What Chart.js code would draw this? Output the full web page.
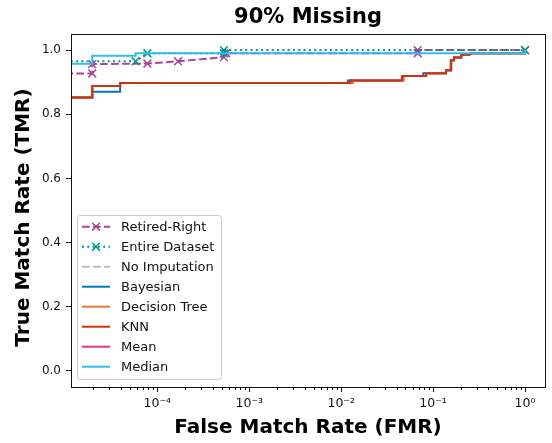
<!DOCTYPE html>
<html>
<head>
<meta charset="utf-8">
<script src="https://cdn.jsdelivr.net/npm/chart.js@4.4.1/dist/chart.umd.min.js"></script>
<style>
  body { margin: 0; background: #fff; }
</style>
</head>
<body>
<canvas id="roc" width="552" height="443"></canvas>
<script>
// ROC curves - 90% missing
const seriesNames = ['Retired-Right', 'Entire Dataset', 'No Imputation', 'Bayesian', 'Decision Tree', 'KNN', 'Mean', 'Median'];

const retiredFmr = [1e-5, 1.96e-5, 1.96e-5, 7.8e-5, 1.68e-4, 5.3e-4, 5.6e-4, 0.068, 0.068, 1];
const retiredTmr = [0.927, 0.927, 0.956, 0.958, 0.965, 0.978, 0.99, 0.99, 1.0, 1.0];

const entireFmr = [1e-5, 5.8e-5, 7.8e-5, 5.3e-4, 5.3e-4, 1];
const entireTmr = [0.965, 0.965, 0.99, 0.99, 1.0, 1.0];

const medianFmr = [1e-5, 1.96e-5, 1.96e-5, 5.8e-5, 5.8e-5, 1, 1];
const medianTmr = [0.957, 0.957, 0.982, 0.982, 0.99, 0.99, 1.0];

const knnFmr = [1e-5, 1.96e-5, 1.96e-5, 3.94e-5, 3.94e-5, 0.0125, 0.0125, 0.046, 0.046, 0.084, 0.084,
  0.138, 0.138, 0.157, 0.157, 0.169, 0.169, 0.202, 0.202, 0.247, 0.247, 0.259, 0.259, 1, 1];
const knnTmr = [0.852, 0.852, 0.888, 0.888, 0.897, 0.897, 0.905, 0.905, 0.919, 0.919, 0.928,
  0.928, 0.937, 0.937, 0.968, 0.968, 0.977, 0.977, 0.985, 0.985, 0.988, 0.988, 0.99, 0.99, 1.0];

const bayesFmr = [1e-5, 1.96e-5, 1.96e-5, 3.94e-5, 3.94e-5, 0.0118, 0.0118, 0.046, 0.046, 0.078, 0.078,
  0.138, 0.138, 0.155, 0.155, 0.169, 0.169, 0.202, 0.202, 0.247, 0.247, 0.259, 0.259, 1, 1];
const bayesTmr = [0.852, 0.852, 0.870, 0.870, 0.897, 0.897, 0.905, 0.905, 0.919, 0.919, 0.928,
  0.928, 0.937, 0.937, 0.968, 0.968, 0.977, 0.977, 0.985, 0.985, 0.988, 0.988, 0.99, 0.99, 1.0];

const treeFmr = [1e-5, 1.96e-5, 1.96e-5, 3.94e-5, 3.94e-5, 0.0135, 0.0135, 0.048, 0.048, 0.084, 0.084,
  0.138, 0.138, 0.157, 0.157, 0.169, 0.169, 0.202, 0.202, 0.247, 0.247, 0.259, 0.259, 1, 1];
const treeTmr = [0.852, 0.852, 0.888, 0.888, 0.897, 0.897, 0.905, 0.905, 0.919, 0.919, 0.928,
  0.928, 0.937, 0.937, 0.968, 0.968, 0.977, 0.977, 0.985, 0.985, 0.988, 0.988, 0.99, 0.99, 1.0];

// hidden curves: no imputation and mean both sit under KNN
const noImpFmr = knnFmr, noImpTmr = knnTmr;
const meanFmr = knnFmr, meanTmr = knnTmr;

const xTickValues = [1e-4, 1e-3, 1e-2, 1e-1, 1];
const xTickLabels = ['10\u207B\u2074', '10\u207B\u00B3', '10\u207B\u00B2', '10\u207B\u00B9', '10\u2070'];
const yTickValues = [0, 0.2, 0.4, 0.6, 0.8, 1.0];

const colors = ['#AA4499', '#009988', '#BBBBBB', '#0077BB', '#EE7733', '#CC3311', '#EE3377', '#33BBEE'];
const dashes = [[7.7, 3.3], [2, 3.3], [7.7, 3.3], [], [], [], [], []];
const marked = [true, true, false, false, false, false, false, false];
// drawing order, higher = further back
const layers = [7, 6, 8, 5, 4, 2, 9, 0];

function pts(xs, ys) {
  return xs.map((x, i) => ({ x: x, y: ys[i] }));
}

const allData = [
  pts(retiredFmr, retiredTmr), pts(entireFmr, entireTmr), pts(noImpFmr, noImpTmr),
  pts(bayesFmr, bayesTmr), pts(treeFmr, treeTmr), pts(knnFmr, knnTmr),
  pts(meanFmr, meanTmr), pts(medianFmr, medianTmr)
];

const datasets = seriesNames.map((name, i) => ({
  label: name,
  data: allData[i],
  borderColor: colors[i],
  backgroundColor: colors[i],
  borderWidth: 2,
  borderDash: dashes[i],
  pointStyle: 'crossRot',
  pointRadius: marked[i] ? (c => c.dataIndex === 0 ? 0 : 5.5) : 0,
  pointBorderWidth: 1.5,
  pointHoverRadius: 0,
  tension: 0,
  fill: false,
  order: layers[i]
}));

const extras = {
  id: 'extras',
  beforeDraw(chart) {
    const ctx = chart.ctx;
    ctx.save();
    ctx.fillStyle = '#fff';
    ctx.fillRect(0, 0, chart.width, chart.height);
    ctx.restore();
  },
  afterDraw(chart) {
    const ctx = chart.ctx;
    const a = chart.chartArea;
    const xs = chart.scales.x;
    ctx.save();

    // minor ticks on the log axis
    ctx.strokeStyle = '#111';
    ctx.lineWidth = 1;
    for (let d = -6; d <= 0; d++) {
      for (let k = 2; k <= 9; k++) {
        const v = k * Math.pow(10, d);
        if (v < xs.min || v > xs.max) continue;
        const px = Math.round(xs.getPixelForValue(v)) + 0.5;
        ctx.beginPath();
        ctx.moveTo(px, a.bottom);
        ctx.lineTo(px, a.bottom + 3);
        ctx.stroke();
      }
    }

    // frame
    ctx.strokeRect(Math.round(a.left) + 0.5, Math.round(a.top) + 0.5,
      Math.round(a.right - a.left), Math.round(a.bottom - a.top));

    // title
    ctx.fillStyle = '#000';
    ctx.font = 'bold 21px "DejaVu Sans"';
    ctx.textAlign = 'center';
    ctx.textBaseline = 'middle';
    ctx.fillText('90% Missing', (a.left + a.right) / 2, 18);

    // y axis title
    ctx.save();
    ctx.translate(24, (a.top + a.bottom) / 2 + 7);
    ctx.rotate(-Math.PI / 2);
    ctx.font = 'bold 20px "DejaVu Sans"';
    ctx.fillText('True Match Rate (TMR)', 0, 0);
    ctx.restore();

    // legend (series order)
    const bx = a.left + 6.5, by = 215.5, bw = 144, bh = 164;
    ctx.beginPath();
    ctx.roundRect(bx, by, bw, bh, 3);
    ctx.fillStyle = 'rgba(255,255,255,0.8)';
    ctx.fill();
    ctx.strokeStyle = '#cccccc';
    ctx.stroke();

    ctx.font = '13px "DejaVu Sans"';
    ctx.textAlign = 'left';
    chart.data.datasets.forEach((ds, i) => {
      const y = 226.7 + 20 * i;
      const x0 = bx + 4.5, x1 = bx + 32.5;
      ctx.strokeStyle = ds.borderColor;
      ctx.lineWidth = 2;
      ctx.setLineDash(ds.borderDash);
      ctx.beginPath();
      ctx.moveTo(x0, y);
      ctx.lineTo(x1, y);
      ctx.stroke();
      ctx.setLineDash([]);
      if (marked[i]) {
        const cx = (x0 + x1) / 2, r = 3.9;
        ctx.lineWidth = 1.5;
        ctx.beginPath();
        ctx.moveTo(cx - r, y - r);
        ctx.lineTo(cx + r, y + r);
        ctx.moveTo(cx - r, y + r);
        ctx.lineTo(cx + r, y - r);
        ctx.stroke();
      }
      ctx.fillStyle = '#111';
      ctx.fillText(ds.label, bx + 43.5, y + 0.5);
    });
    ctx.restore();
  }
};

new Chart(document.getElementById('roc'), {
  type: 'line',
  data: { datasets: datasets },
  options: {
    responsive: false,
    animation: false,
    layout: { padding: { top: 34, right: 6, left: 0, bottom: 0 } },
    plugins: {
      legend: { display: false },
      tooltip: { enabled: false }
    },
    scales: {
      x: {
        type: 'logarithmic',
        min: Math.pow(10, -4.939),
        max: Math.pow(10, 0.217),
        afterBuildTicks: s => { s.ticks = xTickValues.map(v => ({ value: v })); },
        afterFit: s => { s.height = 56; },
        ticks: {
          autoSkip: false,
          maxRotation: 0,
          padding: 4,
          color: '#111',
          font: { family: 'DejaVu Sans', size: 12.5 },
          callback: (v, i) => xTickLabels[i]
        },
        grid: { drawOnChartArea: false, drawTicks: true, tickLength: 5, tickColor: '#111' },
        border: { display: false },
        title: {
          display: true,
          text: 'False Match Rate (FMR)',
          color: '#000',
          font: { family: 'DejaVu Sans', size: 20, weight: 'bold', lineHeight: 1.2 },
          padding: { top: 0, bottom: 3 }
        }
      },
      y: {
        min: -0.05,
        max: 1.05,
        afterBuildTicks: s => { s.ticks = yTickValues.map(v => ({ value: v })); },
        afterFit: s => { s.width = 71; },
        ticks: {
          padding: 5,
          color: '#111',
          font: { family: 'DejaVu Sans', size: 12 },
          callback: v => v.toFixed(1)
        },
        grid: { drawOnChartArea: false, drawTicks: true, tickLength: 5, tickColor: '#111' },
        border: { display: false },
        title: { display: false }
      }
    }
  },
  plugins: [extras]
});
</script>
</body>
</html>
